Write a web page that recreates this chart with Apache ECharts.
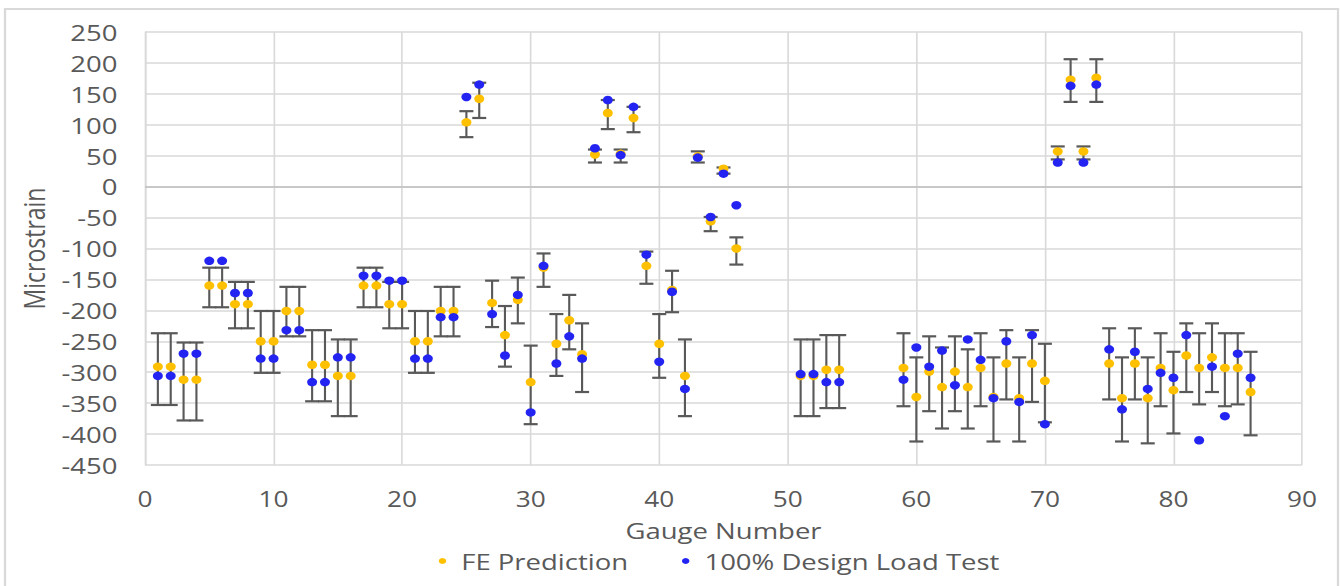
<!DOCTYPE html>
<html>
<head>
<meta charset="utf-8">
<script src="https://cdn.jsdelivr.net/npm/echarts@6/dist/echarts.min.js"></script>
<style>
html, body { margin: 0; padding: 0; background: #fff; overflow: hidden; }
/* the reference picture is stretched sideways, so draw narrower and stretch */
#main { width: 1072px; height: 586px; transform: scaleX(1.25); transform-origin: 0 0; }
</style>
</head>
<body>
<div id="main"></div>
<script>
// gauge numbers (x)
const gauges = [1, 2, 3, 4, 5, 6, 7, 8, 9, 10, 11, 12, 13, 14, 15, 16, 17, 18, 19, 20,
  21, 22, 23, 24, 25, 26, 27, 28, 29, 30, 31, 32, 33, 34, 35, 36, 37, 38, 39, 40,
  41, 42, 43, 44, 45, 46, 51, 52, 53, 54, 59, 60, 61, 62, 63, 64, 65, 66, 67, 68,
  69, 70, 71, 72, 73, 74, 75, 76, 77, 78, 79, 80, 81, 82, 83, 84, 85, 86];

// FE Prediction
const feValues = [-291, -291, -312, -312, -160, -160, -190, -190, -250, -250, -201, -201, -288, -288, -306, -306, -160, -160, -190, -190,
  -250, -250, -201, -201, 104, 142, -188, -240, -183, -316, -131, -254, -216, -271, 52, 119, 53, 111, -128, -254,
  -167, -306, 49, -56, 29, -100, -306, -306, -296, -296, -293, -340, -299, -324, -299, -324, -293, -340, -286, -342,
  -286, -314, 57, 173, 57, 176, -286, -342, -286, -342, -293, -329, -273, -293, -276, -293, -293, -332];

// 100% Design Load Test
const testValues = [-306, -306, -270, -270, -120, -120, -172, -172, -278, -278, -232, -232, -316, -316, -276, -276, -144, -144, -152, -152,
  -278, -278, -211, -211, 145, 165, -206, -273, -175, -365, -128, -286, -242, -278, 62, 140, 51, 129, -110, -283,
  -170, -327, 47, -49, 21, -30, -303, -303, -316, -316, -312, -260, -291, -265, -321, -247, -280, -342, -250, -348,
  -240, -384, 39, 163, 39, 165, -263, -360, -267, -327, -301, -309, -240, -410, -291, -371, -270, -309];

// error bar ends on the FE prediction
const errLow = [-353, -353, -378, -378, -195, -195, -229, -229, -301, -301, -242, -242, -347, -347, -371, -371, -195, -195, -229, -229,
  -301, -301, -242, -242, 80, 111, -227, -291, -221, -384, -162, -306, -263, -332, 39, 93, 39, 88, -157, -309,
  -203, -371, 39, -72, 21, -126, -371, -371, -358, -358, -355, -412, -363, -391, -363, -391, -355, -412, -344, -412,
  -348, -381, 44, 137, 44, 137, -344, -412, -344, -415, -355, -399, -332, -352, -332, -355, -352, -402];
const errHigh = [-237, -237, -252, -252, -131, -131, -154, -154, -201, -201, -162, -162, -232, -232, -247, -247, -131, -131, -154, -154,
  -201, -201, -162, -162, 122, 168, -152, -193, -147, -257, -108, -206, -175, -221, 60, 140, 60, 129, -105, -206,
  -136, -247, 57, -49, 31, -82, -247, -247, -240, -240, -237, -276, -242, -260, -242, -263, -237, -276, -232, -276,
  -232, -254, 65, 206, 65, 206, -229, -276, -229, -276, -237, -267, -221, -237, -221, -237, -237, -267];

const xTicks = [0, 10, 20, 30, 40, 50, 60, 70, 80, 90];
const yTicks = [-450, -400, -350, -300, -250, -200, -150, -100, -50, 0, 50, 100, 150, 200, 250];

const textColor = '#595959';
const font = '"Open Sans", sans-serif';

const fePoints = gauges.map((g, i) => [g, feValues[i]]);
const testPoints = gauges.map((g, i) => [g, testValues[i]]);
const errData = gauges.map((g, i) => [g, errLow[i], errHigh[i]]);

const chart = echarts.init(document.getElementById('main'), null, { renderer: 'svg' });

chart.setOption({
  animation: false,
  textStyle: { fontFamily: font, color: textColor },
  graphic: [{
    type: 'rect',
    shape: { x: 4, y: 9, width: 1066.4, height: 600 },
    style: { fill: 'none', stroke: '#d9d9d9', lineWidth: 1.8 },
    silent: true
  }],
  grid: { left: 116, right: 30.4, top: 32, bottom: 121 },
  legend: {
    data: ['FE Prediction', '100% Design Load Test'],
    top: 545,
    left: 346,
    icon: 'circle',
    itemWidth: 6,
    itemHeight: 7.5,
    itemGap: 43,
    textStyle: { fontSize: 22, color: textColor, fontFamily: font, padding: [0, 0, 0, 7] }
  },
  xAxis: {
    type: 'value',
    min: xTicks[0],
    max: xTicks[xTicks.length - 1],
    interval: 10,
    name: 'Gauge Number',
    nameLocation: 'middle',
    nameGap: 65,
    nameTextStyle: { fontSize: 22, lineHeight: 20, color: textColor, fontFamily: font, verticalAlign: 'middle' },
    axisLine: { show: false },
    axisTick: { show: false },
    axisLabel: { fontSize: 21, lineHeight: 20, color: textColor, margin: 24 },
    splitLine: { show: true, lineStyle: { color: '#d9d9d9', width: 1.3 } }
  },
  yAxis: {
    type: 'value',
    min: yTicks[0],
    max: yTicks[yTicks.length - 1],
    interval: 50,
    name: 'Microstrain',
    nameLocation: 'middle',
    nameGap: 77,
    nameTextStyle: { fontSize: 23, color: textColor, fontFamily: font },
    axisLine: { show: true, lineStyle: { color: '#d9d9d9', width: 1.3 } },
    axisTick: { show: false },
    axisLabel: { fontSize: 22, color: textColor, margin: 22 },
    splitLine: { show: true, lineStyle: { color: '#d9d9d9', width: 1.5 } }
  },
  series: [
    {
      name: 'errorbars',
      type: 'custom',
      data: errData,
      z: 1,
      silent: true,
      encode: { x: 0, y: [1, 2] },
      renderItem: function (params, api) {
        const x = api.value(0);
        const lo = api.coord([x, api.value(1)]);
        const hi = api.coord([x, api.value(2)]);
        const hw = 5.6;
        const stem = { stroke: '#595959', lineWidth: 1.7 };
        const cap = { stroke: '#595959', lineWidth: 2.2 };
        return {
          type: 'group',
          children: [
            { type: 'line', shape: { x1: hi[0], y1: hi[1], x2: lo[0], y2: lo[1] }, style: stem },
            { type: 'line', shape: { x1: hi[0] - hw, y1: hi[1], x2: hi[0] + hw, y2: hi[1] }, style: cap },
            { type: 'line', shape: { x1: lo[0] - hw, y1: lo[1], x2: lo[0] + hw, y2: lo[1] }, style: cap }
          ]
        };
      }
    },
    {
      // zero line, a bit darker than the grid
      name: 'zero',
      type: 'line',
      data: [],
      silent: true,
      markLine: {
        symbol: 'none',
        silent: true,
        label: { show: false },
        lineStyle: { color: '#bfbfbf', width: 1.5, type: 'solid' },
        data: [{ yAxis: 0 }]
      }
    },
    {
      name: 'FE Prediction',
      type: 'scatter',
      data: fePoints,
      symbol: 'circle',
      symbolSize: [8, 8.5],
      z: 3,
      itemStyle: { color: '#ffc000', opacity: 1 }
    },
    {
      name: '100% Design Load Test',
      type: 'scatter',
      data: testPoints,
      symbol: 'circle',
      symbolSize: [8, 8.5],
      z: 4,
      itemStyle: { color: '#2424f2', opacity: 1 }
    }
  ]
});
</script>
</body>
</html>
